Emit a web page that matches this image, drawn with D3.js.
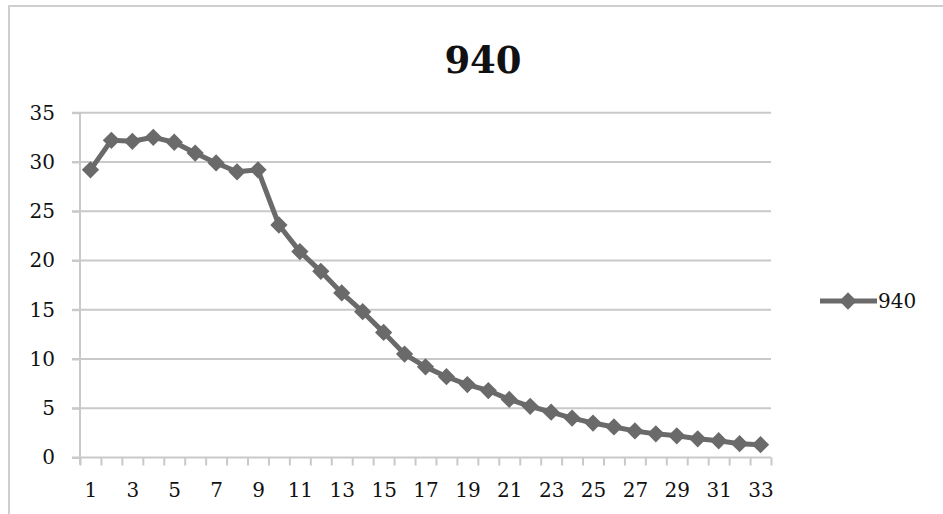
<!DOCTYPE html>
<html>
<head>
<meta charset="utf-8">
<script src="https://cdn.jsdelivr.net/npm/d3@7"></script>
<style>
  html, body { margin: 0; padding: 0; background: #fff; }
  svg { display: block; }
  text { font-family: "DejaVu Serif", "Liberation Serif", serif; fill: #111; }
</style>
</head>
<body>
<svg id="chart" width="943" height="514"></svg>
<script>
// Series "940": one value per step, steps 1..33
const seriesName = "940";
const steps = d3.range(1, 34);
const values = [29.2, 32.2, 32.1, 32.5, 32.0, 30.9, 29.9, 29.0, 29.2, 23.6,
                20.9, 18.9, 16.7, 14.8, 12.7, 10.5, 9.2, 8.2, 7.4, 6.8,
                5.9, 5.2, 4.6, 4.0, 3.5, 3.1, 2.7, 2.4, 2.2, 1.9,
                1.7, 1.4, 1.3];
const yTicks = [0, 5, 10, 15, 20, 25, 30, 35];
const xLabelSteps = steps.filter(d => d % 2 === 1);

const svg = d3.select("#chart");
const lineColor = "#6a6a6a";
const gridColor = "#c9c9c9";

// chart frame
svg.append("path")
  .attr("d", "M9,514 V6 H943")
  .attr("fill", "none")
  .attr("stroke", "#cfcfcf")
  .attr("stroke-width", 2);

const plot = { left: 80, right: 771, top: 112.7, bottom: 457.5 };

// Each step occupies one slot; ticks sit on the slot boundaries
const x = d3.scaleLinear().domain([0.5, 33.5]).range([plot.left, plot.right]);
const y = d3.scaleLinear().domain([0, 35]).range([plot.bottom, plot.top]);

// horizontal gridlines
svg.append("g").selectAll("line")
  .data(yTicks.filter(d => d > 0))
  .join("line")
  .attr("x1", plot.left - 8).attr("x2", plot.right)
  .attr("y1", d => y(d)).attr("y2", d => y(d))
  .attr("stroke", gridColor).attr("stroke-width", 2);

// y axis
const yAxis = svg.append("g")
  .attr("transform", `translate(${plot.left},0)`)
  .call(d3.axisLeft(y).tickValues(yTicks).tickSizeInner(8).tickSizeOuter(0).tickPadding(17));
yAxis.select(".domain").attr("stroke", gridColor).attr("stroke-width", 2)
  .attr("d", `M0,${plot.top}V${plot.bottom + 7}`);
yAxis.selectAll(".tick line").attr("stroke", gridColor).attr("stroke-width", 2);
yAxis.selectAll(".tick text").style("font-size", "20px").style("font-family", "DejaVu Serif").attr("fill", "#111");

// x axis: boundary ticks
const xTickAxis = svg.append("g")
  .attr("transform", `translate(0,${plot.bottom})`)
  .call(d3.axisBottom(x).tickValues(d3.range(0.5, 34, 1)).tickSize(8).tickFormat(""));
xTickAxis.select(".domain").attr("stroke", gridColor).attr("stroke-width", 2)
  .attr("d", `M${plot.left - 8},0H${plot.right}`);
xTickAxis.selectAll(".tick line").attr("stroke", gridColor).attr("stroke-width", 2);

// x axis: labels on odd steps
const xLabelAxis = svg.append("g")
  .attr("transform", `translate(0,${plot.bottom})`)
  .call(d3.axisBottom(x).tickValues(xLabelSteps).tickSize(0).tickPadding(25).tickFormat(d3.format("d")));
xLabelAxis.select(".domain").remove();
xLabelAxis.selectAll(".tick text").style("font-size", "20px").style("font-family", "DejaVu Serif").attr("fill", "#111");

// series line
const line = d3.line().x((d, i) => x(steps[i])).y(d => y(d));
svg.append("path")
  .datum(values)
  .attr("d", line)
  .attr("fill", "none")
  .attr("stroke", lineColor)
  .attr("stroke-width", 5)
  .attr("stroke-linejoin", "round");

// diamond markers
const diamond = d3.symbol().type(d3.symbolDiamond2).size(190);
svg.append("g").selectAll("path")
  .data(values)
  .join("path")
  .attr("d", diamond)
  .attr("transform", (d, i) => `translate(${x(steps[i])},${y(d)})`)
  .attr("fill", lineColor);

// title
svg.append("text")
  .attr("x", 483).attr("y", 73)
  .attr("text-anchor", "middle")
  .style("font-size", "37px").style("font-weight", "bold")
  .text(seriesName);

// legend
const legend = svg.append("g").attr("transform", "translate(820,301)");
legend.append("line")
  .attr("x1", 0).attr("x2", 57).attr("y1", 0).attr("y2", 0)
  .attr("stroke", lineColor).attr("stroke-width", 5);
legend.append("path")
  .attr("d", diamond)
  .attr("transform", "translate(28,0)")
  .attr("fill", lineColor);
legend.append("text")
  .attr("x", 58).attr("y", 0).attr("dy", "0.35em")
  .style("font-size", "20px")
  .text(seriesName);
</script>
</body>
</html>
